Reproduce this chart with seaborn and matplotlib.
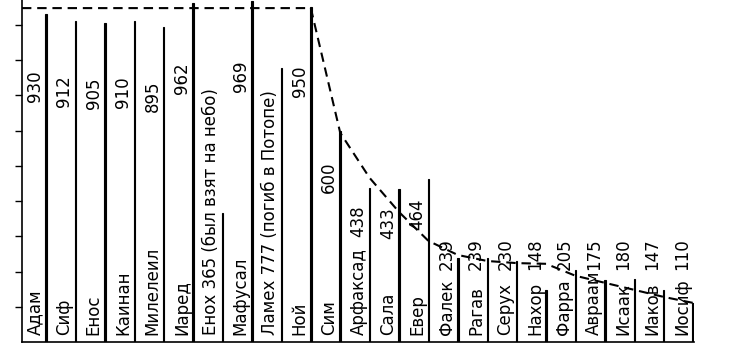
import numpy as np
import pandas as pd
import matplotlib
matplotlib.use("Agg")
import matplotlib.pyplot as plt
import seaborn as sns

# ---- data ----
names = ["Адам", "Сиф", "Енос", "Каинан", "Милелеил", "Иаред", "Енох", "Мафусал",
         "Ламех", "Ной", "Сим", "Арфаксад", "Сала", "Евер", "Фалек", "Рагав",
         "Серух", "Нахор", "Фарра", "Авраам", "Исаак", "Иаков", "Иосиф"]
years = [930, 912, 905, 910, 895, 962, 365, 969, 777, 950, 600, 438, 433, 464,
         239, 239, 230, 148, 205, 175, 180, 147, 110]
notes = {"Енох": "(был взят на небо)", "Ламех": "(погиб в Потопе)"}
# dashed trend curve, one value per person
trend = [948, 948, 948, 948, 948, 948, 948, 948, 948, 948,
         594, 466, 369, 287, 247, 230, 224, 222, 188, 168, 148, 128, 111]

sns.set_theme(style="white")
plt.rcParams["font.family"] = ["DejaVu Sans"]

fig = plt.figure(figsize=(7.29, 3.63), dpi=100)
ax = fig.add_axes([22 / 729, 21 / 363, (694 - 22) / 729, 342 / 363])

df = pd.DataFrame({"name": names, "years": years})
sns.barplot(data=df, x="name", y="years", color="black", saturation=1,
            width=0.05, edgecolor="black", linewidth=0.8, ax=ax)

x_left = -0.82
pos = np.arange(len(names))
tx = np.r_[x_left, pos]
ty = np.r_[trend[0], trend]
sns.lineplot(x=tx, y=ty, ax=ax, color="black", lw=1.5, linestyle=(0, (4.5, 2.8)),
             sort=False, estimator=None)

fs = 12
for i, (n, v) in enumerate(zip(names, years)):
    lab = f"{n} {v} {notes[n]}" if n in notes else n
    ax.annotate(lab, xy=(i - 0.38, 0), xytext=(0, 5), textcoords="offset points",
                rotation=90, ha="center", va="bottom", fontsize=fs, color="black")
    if n not in notes:
        ax.text(i - 0.38, max(0.78 * v, 250), str(v), rotation=90,
                ha="center", va="center", fontsize=fs, color="black")

ax.set_xlim(x_left, len(names) - 1 + 0.03)
ax.set_ylim(0, 971)
ax.set_xticks([])
ax.set_yticks(range(100, 1000, 100))
ax.set_yticklabels([])
ax.tick_params(axis="y", left=True, length=5, width=1, color="black", direction="out")
ax.set_xlabel("")
ax.set_ylabel("")
for s in ["top", "right"]:
    ax.spines[s].set_visible(False)
for s in ["left", "bottom"]:
    ax.spines[s].set_color("black")
    ax.spines[s].set_linewidth(1.2)

fig.savefig("out.png", dpi=100)
